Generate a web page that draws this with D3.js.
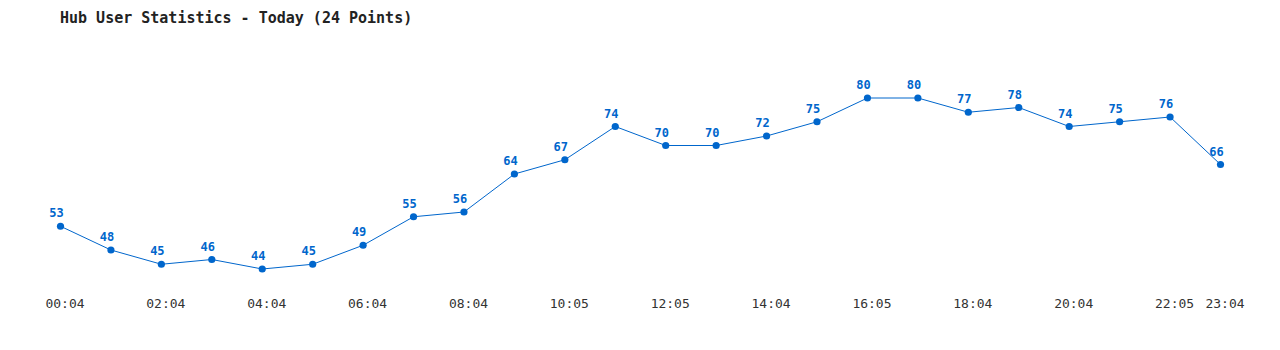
<!DOCTYPE html>
<html>
<head>
<meta charset="utf-8">
<script src="https://cdn.jsdelivr.net/npm/d3@7"></script>
<style>
  html, body { margin: 0; padding: 0; background: #fff; }
  svg { display: block; }
</style>
</head>
<body>
<svg id="chart" width="1280" height="350"></svg>
<script>
const W = 1280, H = 350;
const BLUE = '#0066cc';

// hourly user counts, one per point
const users = [53, 48, 45, 46, 44, 45, 49, 55, 56, 64, 67, 74,
               70, 70, 72, 75, 80, 80, 77, 78, 74, 75, 76, 66];
// which points carry a time label underneath
const tickIdx    = [0, 2, 4, 6, 8, 10, 12, 14, 16, 18, 20, 22, 23];
const tickLabels = ['00:04', '02:04', '04:04', '06:04', '08:04', '10:05', '12:05',
                    '14:04', '16:05', '18:04', '20:04', '22:05', '23:04'];

const svg = d3.select('#chart');

const x = d3.scalePoint().domain(d3.range(users.length)).range([60.5, 1220.5]);
const y = d3.scaleLinear().domain(d3.extent(users)).range([269, 98]);

svg.append('text')
  .attr('x', 60).attr('y', 23)
  .attr('font-family', "'DejaVu Sans Mono', monospace")
  .attr('font-size', 15).attr('font-weight', 'bold')
  .attr('fill', '#222')
  .text('Hub User Statistics - Today (24 Points)');

const line = d3.line().x((d, i) => x(i)).y(d => y(d));
svg.append('path')
  .datum(users)
  .attr('d', line)
  .attr('fill', 'none')
  .attr('stroke', BLUE)
  .attr('stroke-width', 1);

svg.selectAll('circle.pt').data(users).join('circle').attr('class', 'pt')
  .attr('cx', (d, i) => x(i)).attr('cy', d => y(d))
  .attr('r', 3.6).attr('fill', BLUE);

svg.selectAll('text.val').data(users).join('text').attr('class', 'val')
  .attr('x', (d, i) => x(i) - 4).attr('y', d => y(d) - 9)
  .attr('text-anchor', 'middle')
  .attr('font-family', "'DejaVu Sans Mono', monospace")
  .attr('font-size', 12).attr('font-weight', 'bold')
  .attr('fill', BLUE)
  .text(d => d);

svg.selectAll('text.tick').data(tickIdx).join('text').attr('class', 'tick')
  .attr('x', d => x(d) + 4.5).attr('y', 308)
  .attr('text-anchor', 'middle')
  .attr('font-family', "'DejaVu Sans Mono', monospace")
  .attr('font-size', 13)
  .attr('fill', '#333')
  .text((d, i) => tickLabels[i]);
</script>
</body>
</html>
